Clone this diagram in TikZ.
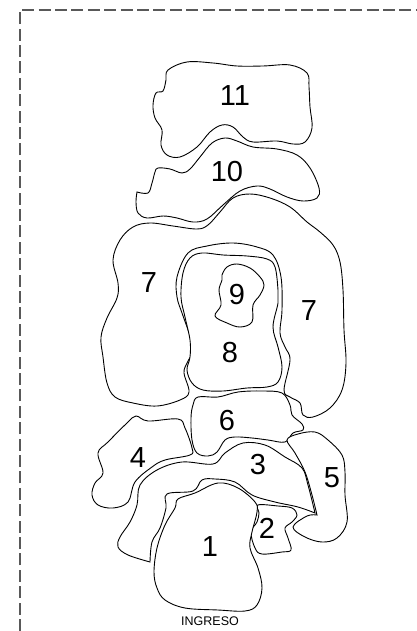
\documentclass[tikz,border=0pt]{standalone}
\usepackage{fontspec}
\setmainfont{Liberation Sans}
\tikzset{
  zona/.style={draw=black, line width=0.9pt, fill=white},
  numero/.style={inner sep=0pt, font=\fontsize{29}{29}\selectfont},
  marco/.style={draw=black!65, line width=1.1pt, dash pattern=on 12pt off 4.4pt}
}
\begin{document}
\begin{tikzpicture}[x=1pt, y=-1pt]
  \useasboundingbox (0,0) rectangle (416,631);

  % Frame
  \draw[marco] (20,631) -- (20,10) -- (416,10);

  % Upper zones
  \draw[zona] plot[smooth cycle, tension=0.6] coordinates {(168,70) (187,62) (213,63) (237,66) (263,66) (290,65) (307,73) (309,87) (310,107) (312,128) (305,142) (293,144) (277,141) (253,142) (243,137) (233,127) (222,125) (210,132) (197,147) (180,157) (167,155) (161,145) (162,130) (155,118) (153,105) (156,93) (163,91) (166,80)};
  \draw[zona] plot[smooth, tension=0.6] coordinates {(137,192) (148,193) (152,183) (155,172) (158,168) (170,169) (182,173) (190,169) (200,157) (212,143) (225,138) (237,141) (253,147) (277,149) (297,155) (310,168) (319,188) (317,198) (303,201) (287,197) (270,189) (257,186) (240,191) (223,205) (207,219) (193,222) (177,218) (163,216) (147,218) (138,213) (136,202) (137,192)} -- cycle;

  % Middle zones
  \draw[zona] plot[smooth cycle, tension=0.6] coordinates {(150,223) (173,226) (197,229) (208,225) (220,212) (233,198) (250,194) (270,198) (290,207) (307,222) (320,232) (333,245) (340,262) (343,290) (344,330) (346,363) (342,390) (330,408) (313,417) (303,415) (300,403) (290,397) (284,390) (290,360) (285,347) (280,333) (282,310) (281,277) (273,255) (257,247) (233,243) (207,246) (188,253) (177,277) (177,297) (182,313) (189,333) (193,350) (187,363) (184,373) (189,392) (180,400) (157,406) (133,403) (115,397) (107,383) (103,357) (101,337) (107,318) (117,298) (118,283) (113,260) (120,240) (133,227)};
  \draw[zona] plot[smooth cycle, tension=0.6] coordinates {(190,258) (202,253) (223,255) (247,256) (267,259) (275,267) (278,290) (278,303) (273,327) (278,347) (282,367) (278,382) (267,387) (247,388) (223,391) (203,390) (192,383) (187,370) (190,357) (190,340) (185,317) (181,297) (183,273)};
  \draw[zona] plot[smooth cycle, tension=0.6] coordinates {(222,275) (227,267) (237,264) (250,268) (260,277) (264,285) (260,295) (253,305) (252,322) (240,327) (227,323) (215,316) (221,305) (219,290) (222,280)};

  % Lower zones
  \draw[zona] plot[smooth cycle, tension=0.6] coordinates {(198,397) (218,397) (238,392) (262,391) (282,393) (290,405) (292,415) (302,424) (303,430) (293,433) (285,442) (268,440) (252,438) (235,437) (225,440) (217,452) (208,456) (197,453) (192,440) (191,418) (193,405)};
  \draw[zona] plot[smooth cycle, tension=0.6] coordinates {(136,416) (148,421) (178,419) (185,428) (192,448) (190,455) (165,460) (152,467) (135,482) (128,502) (113,508) (98,505) (92,495) (95,483) (103,473) (98,453) (108,442) (127,423)};
  \draw[zona] plot[smooth, tension=0.6] coordinates {(317,515) (312,495) (305,472) (295,453) (287,440) (298,434) (315,432) (328,440) (342,455) (345,472) (345,495) (347,522) (337,538) (322,542) (305,537) (293,527) (307,516) (317,515)} -- cycle;
  \draw[zona] plot[smooth, tension=0.6] coordinates {(150,562) (128,555) (118,547) (120,537) (130,522) (137,505) (140,485) (157,470) (182,462) (213,464) (225,453) (243,443) (265,445) (285,457) (302,468) (308,485) (315,513)} -- plot[smooth, tension=0.6] coordinates {(315,513) (298,507) (275,502) (252,495) (235,482) (215,479) (202,480) (193,491) (167,494) (166,508) (160,528) (152,542) (150,562)} -- cycle;
  \draw[zona] plot[smooth cycle, tension=0.6] coordinates {(258,505) (278,506) (292,508) (297,515) (292,522) (285,528) (288,538) (291,550) (282,552) (262,554) (255,548) (251,532) (257,522) (259,513)};
  \draw[zona] plot[smooth cycle, tension=0.6] coordinates {(178,499) (195,493) (218,483) (238,488) (255,502) (257,512) (252,532) (250,548) (258,568) (262,588) (257,605) (245,611) (218,610) (185,608) (165,600) (157,588) (154,572) (157,548) (165,525) (175,508)};

  % Labels
  \foreach \x/\y/\t [count=\i] in {235/96/11, 227/172/10, 149/283/7, 309/311/7, 237/295/9, 230/353/8, 227/421/6, 138/458/4, 258/465/3, 332/478/5, 267/528/2, 210/547/1}
    \node[numero] (n\i) at (\x,\y) {\t};
  \node[inner sep=0pt, font=\fontsize{12.5}{12.5}\selectfont] (ingreso) at (210,621) {INGRESO};
\end{tikzpicture}
\end{document}
